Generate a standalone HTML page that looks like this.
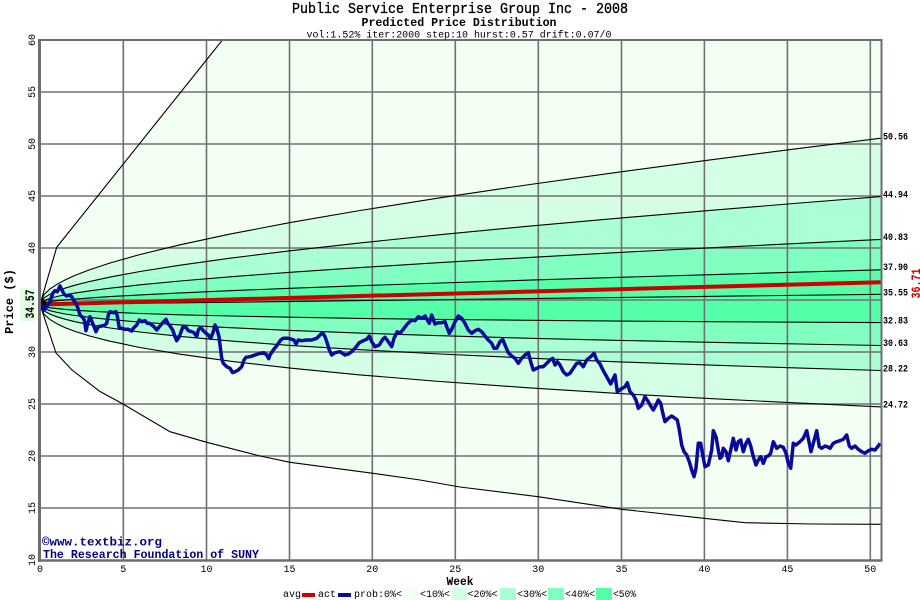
<!DOCTYPE html>
<html><head><meta charset="utf-8"><style>
html,body{margin:0;padding:0;background:#fff;}
svg{display:block;}
text{font-family:"Liberation Mono","DejaVu Sans Mono",monospace;}
</style></head><body>
<svg width="920" height="600" viewBox="0 0 920 600" xmlns="http://www.w3.org/2000/svg">
<defs><clipPath id="pc"><rect x="40" y="40" width="841" height="520"/></clipPath></defs>
<rect width="920" height="600" fill="#fff"/>
<g clip-path="url(#pc)">
<polygon fill="#f2fff2" points="40,304.5 56.7,247.3 222,40 881,40 881,524.3 813,524 745,522.7 704,518.3 621.7,509.3 538,496.7 460,487 420,480 373,473.3 290,462.3 260,456 206.7,442.3 170,431.7 123,404 100,391.5 72,370 56,353"/>
<polygon fill="#d4ffe4" points="40,304.5 44,294.6 50,288.9 57,284.3 65,280 75,275.4 90,269.6 110,263 140,254.5 180,244.8 230,234.1 290,222.6 360,210.5 440,197.8 530,184.5 620,171.9 710,159.9 800,148.3 881,138.2 881,406.9 800,403.1 710,398.6 620,393.6 530,387.9 440,381.5 360,374.9 290,368.1 230,361.2 180,354.2 140,347.5 110,341.2 90,336.1 75,331.4 65,327.6 57,323.8 50,319.6 44,314.3"/>
<polygon fill="#aaffd4" points="40,304.5 44,297.9 50,294.2 57,291.1 65,288.2 75,285.2 90,281.4 110,277.1 140,271.5 180,265.2 230,258.2 290,250.8 360,242.9 440,234.7 530,226.1 620,218.1 710,210.4 800,203 881,196.6 881,370.5 800,368.1 710,365.1 620,361.9 530,358.2 440,354 360,349.7 290,345.4 230,340.9 180,336.4 140,332 110,328 90,324.7 75,321.7 65,319.2 57,316.8 50,314.1 44,310.8"/>
<polygon fill="#80ffc0" points="40,304.5 44,300.6 50,298.4 57,296.5 65,294.8 75,293.1 90,290.8 110,288.2 140,284.8 180,281 230,276.8 290,272.3 360,267.6 440,262.6 530,257.4 620,252.4 710,247.8 800,243.3 881,239.4 881,345.5 800,344 710,342.3 620,340.4 530,338.3 440,335.7 360,333.1 290,330.4 230,327.7 180,324.9 140,322.1 110,319.6 90,317.4 75,315.5 65,314 57,312.4 50,310.7 44,308.5"/>
<polygon fill="#55ffaa" points="40,304.5 44,302.7 50,301.6 57,300.7 65,299.9 75,299 90,297.9 110,296.6 140,294.9 180,292.9 230,290.7 290,288.3 360,285.7 440,283 530,280.1 620,277.3 710,274.7 800,272.1 881,269.8 881,322.6 800,322.2 710,321.7 620,321.1 530,320.3 440,319.4 360,318.4 290,317.2 230,316 180,314.8 140,313.5 110,312.2 90,311.2 75,310.2 65,309.4 57,308.6 50,307.8 44,306.6"/>
<g stroke="#707070" stroke-width="1.6" fill="none">
<line x1="123.3" y1="40" x2="123.3" y2="560"/><line x1="206.5" y1="40" x2="206.5" y2="560"/><line x1="289.5" y1="40" x2="289.5" y2="560"/><line x1="372.3" y1="40" x2="372.3" y2="560"/><line x1="455.3" y1="40" x2="455.3" y2="560"/><line x1="538.3" y1="40" x2="538.3" y2="560"/><line x1="621.5" y1="40" x2="621.5" y2="560"/><line x1="704.4" y1="40" x2="704.4" y2="560"/><line x1="787.4" y1="40" x2="787.4" y2="560"/><line x1="870.3" y1="40" x2="870.3" y2="560"/>
<line x1="40" y1="92" x2="881" y2="92"/><line x1="40" y1="144" x2="881" y2="144"/><line x1="40" y1="196" x2="881" y2="196"/><line x1="40" y1="248" x2="881" y2="248"/><line x1="40" y1="300" x2="881" y2="300"/><line x1="40" y1="352" x2="881" y2="352"/><line x1="40" y1="404" x2="881" y2="404"/><line x1="40" y1="456" x2="881" y2="456"/><line x1="40" y1="508" x2="881" y2="508"/>
</g>
<g stroke="#000" stroke-width="1.1" fill="none">
<polyline points="40,304.5 56.7,247.3 222,40.5 231,40.5"/>
<polyline points="40,304.5 56,353 72,370 100,391.5 123,404 170,431.7 206.7,442.3 260,456 290,462.3 373,473.3 420,480 460,487 538,496.7 621.7,509.3 704,518.3 745,522.7 813,524 881,524.3"/>
<polyline points="40,304.5 44,294.6 50,288.9 57,284.3 65,280 75,275.4 90,269.6 110,263 140,254.5 180,244.8 230,234.1 290,222.6 360,210.5 440,197.8 530,184.5 620,171.9 710,159.9 800,148.3 881,138.2"/>
<polyline points="40,304.5 44,297.9 50,294.2 57,291.1 65,288.2 75,285.2 90,281.4 110,277.1 140,271.5 180,265.2 230,258.2 290,250.8 360,242.9 440,234.7 530,226.1 620,218.1 710,210.4 800,203 881,196.6"/>
<polyline points="40,304.5 44,300.6 50,298.4 57,296.5 65,294.8 75,293.1 90,290.8 110,288.2 140,284.8 180,281 230,276.8 290,272.3 360,267.6 440,262.6 530,257.4 620,252.4 710,247.8 800,243.3 881,239.4"/>
<polyline points="40,304.5 44,302.7 50,301.6 57,300.7 65,299.9 75,299 90,297.9 110,296.6 140,294.9 180,292.9 230,290.7 290,288.3 360,285.7 440,283 530,280.1 620,277.3 710,274.7 800,272.1 881,269.8"/>
<line x1="40" y1="304.5" x2="881" y2="294.3"/>
<polyline points="40,304.5 44,306.6 50,307.8 57,308.6 65,309.4 75,310.2 90,311.2 110,312.2 140,313.5 180,314.8 230,316 290,317.2 360,318.4 440,319.4 530,320.3 620,321.1 710,321.7 800,322.2 881,322.6"/>
<polyline points="40,304.5 44,308.5 50,310.7 57,312.4 65,314 75,315.5 90,317.4 110,319.6 140,322.1 180,324.9 230,327.7 290,330.4 360,333.1 440,335.7 530,338.3 620,340.4 710,342.3 800,344 881,345.5"/>
<polyline points="40,304.5 44,310.8 50,314.1 57,316.8 65,319.2 75,321.7 90,324.7 110,328 140,332 180,336.4 230,340.9 290,345.4 360,349.7 440,354 530,358.2 620,361.9 710,365.1 800,368.1 881,370.5"/>
<polyline points="40,304.5 44,314.3 50,319.6 57,323.8 65,327.6 75,331.4 90,336.1 110,341.2 140,347.5 180,354.2 230,361.2 290,368.1 360,374.9 440,381.5 530,387.9 620,393.6 710,398.6 800,403.1 881,406.9"/>
</g>
<line x1="40" y1="304.5" x2="881" y2="282.2" stroke="#cc0000" stroke-width="4"/>
<rect x="40" y="301" width="6" height="6" fill="#000"/>
<polyline fill="none" stroke="#0a0a9a" stroke-width="3.5" stroke-linejoin="round" points="41.7,303.3 44,310 46.7,306.7 50,301.7 52.7,293.3 55,290.7 57.3,291.7 60,286 62,290 64,294 66.7,296 69.3,295 71.7,296.7 73.3,300 76,303.3 78.3,309.3 80,315 82.7,317.3 84.3,320 86,330.7 87.7,323.3 90,316.7 92.7,323.3 94.3,327.3 96,331.7 98.3,326.7 101.7,326 105,325 106.7,323.3 108.3,315 110,311.7 113.3,312.7 116,311.7 117.3,316 119.3,328.3 121.7,328.3 125,329.3 128.3,329.3 131.7,331 133.3,328.3 136.7,325 139.3,320 141.7,321.7 145,320.7 147.3,323.3 149.3,323.3 151.7,325 154,326.7 156.7,330 159.3,326.7 162.7,322.7 166,319.3 167.7,323.3 170,326 172.7,330 175,336.7 176.7,340.7 179.3,336.7 182.7,327.3 186,327.3 188.3,330.7 191.7,331.7 194,332.7 196.7,336.7 198.3,330 200.7,327.3 203.3,330.7 206,333.3 208.3,335 210.7,338.3 213.3,331.7 215,325 216.7,328.3 219,336.7 221.7,358.3 223.3,363.3 226.7,366.7 230,368.3 232.7,372.7 235,371.7 238.3,370 241.7,366.7 244,360 246,357.3 250,356.7 255,355 260,353.3 264,352.7 266.7,355 268.7,358.7 270,355 273.3,350 277.3,345 280.7,340 283.3,338.3 288.3,338.3 291.7,339.3 294,340 296,344 298.3,340 301.7,340.7 306.7,340 311.7,340 316.7,338.3 320,335 322.7,332.7 325,336.7 327.3,343.3 329.3,350 331.7,355 335,352.7 340,351.7 345,355 348.3,354 351.7,351.7 355,348.3 359.3,342.7 363.3,340.7 366.7,339.3 369.3,336 371.7,341.7 375,346.7 379.3,345 382.7,339.3 385,337.3 388.3,341.7 391.7,346.7 394,338.3 397.3,331.7 400,333.3 403.3,329.3 407.3,324 411.7,320 415,320.7 418.3,316.7 421.7,318.3 425,316 427.3,320 429.3,323.3 431.7,315 435,324 438.3,322.7 441.7,322.7 445,321.7 446.7,326.7 449.3,333.3 451.7,329.3 455,321.7 458.3,316 461.7,318.3 465,323.3 468.3,330 471.7,333.3 475,330.7 478.3,329.3 481.7,331.7 485,336 488.3,340 491.7,343.3 494,348.3 496.7,348.3 500,341.7 502.7,339.3 505,345 508.3,352.7 511.7,356 515,358.3 518.3,363.3 521.7,358.3 525,355 528.3,352.7 530.7,361.7 533.3,370 536.7,368.3 540,366.7 543.3,366.7 546.7,363.3 550,360 552.7,358.3 555,365 557.3,361.7 560,365 563.3,371.7 566.7,375 570,373.3 573.3,368.3 576.7,363.3 580,362.7 583.3,366.7 586.7,360 590.7,356.7 594,353.3 596.7,360 600,364 603.3,370.7 606.7,376.7 610.7,384 613.3,378.3 615,375 617.3,391.7 620.7,389.3 625,386.7 627.3,382.7 630,391.7 633.3,395 636,400 638.3,408.3 641.7,405 645,396.7 648.3,401.7 650.7,406 653.3,410 656,405 658.3,400 660.7,403.3 662.7,412.7 665,421.7 668.3,418.3 671.7,416 675,418.3 677.3,420 679.3,430 681.7,445 684,451.7 686.7,455 689.3,461.7 691.7,470 694,476.7 696,468.3 698.3,443.3 700.7,443.3 702.7,455 705,466.7 708.3,465 711.7,450 713.3,430.7 716,436.7 718.3,450 720,458.3 721.7,456.7 723.3,448.3 726,451.7 728.3,460.7 730.7,450 733.3,438.3 736,450 738.3,441.7 740.7,440 743.3,451.7 746,443.3 748.3,439.3 750.7,446 753.3,456.7 756,465 758.3,460 760.7,456.7 763.3,463.3 766,456.7 768.3,456 770.7,453.3 773.3,441.7 776.7,448.3 780,446 783.3,447.3 786,453.3 788.3,463.3 790.7,468.3 793.3,443.3 796,445 800,441.7 803.3,438.3 806.7,430.7 809.3,443.3 811,451.7 813.3,443.3 816.7,430.7 819.3,446.7 821.7,448.3 825,446 827.3,446.7 830,448.3 833.3,443.3 836.7,441.7 840,440.7 843.3,439.3 846.7,435 849.3,446 851.7,448.3 855,446 858.3,449.3 861.7,451.7 865,453.3 868.3,450.7 871.7,449.3 875,450 878.3,446 880,443.3"/>
</g>
<g stroke="#6e6e6e" fill="none">
<line x1="40" y1="40" x2="882" y2="40" stroke-width="2"/>
<line x1="881.5" y1="39" x2="881.5" y2="561" stroke-width="2"/>
<line x1="39.5" y1="39" x2="39.5" y2="562" stroke-width="3"/>
<line x1="38" y1="560.5" x2="882.5" y2="560.5" stroke-width="2.6"/>
</g>
<text x="292" y="13" font-size="15" textLength="336" lengthAdjust="spacingAndGlyphs" fill="#000" stroke="#000" stroke-width="0.35">Public Service Enterprise Group Inc - 2008</text>
<text x="361.5" y="26" font-size="12" font-weight="bold" textLength="195" lengthAdjust="spacingAndGlyphs" fill="#000">Predicted Price Distribution</text>
<text x="306.5" y="37.5" font-size="10.5" textLength="305" lengthAdjust="spacingAndGlyphs" fill="#000">vol:1.52% iter:2000 step:10 hurst:0.57 drift:0.07/0</text>
<g font-size="10" fill="#000" text-anchor="middle">
<text transform="translate(35,40) rotate(-90)">60</text>
<text transform="translate(35,92) rotate(-90)">55</text>
<text transform="translate(35,144) rotate(-90)">50</text>
<text transform="translate(35,196) rotate(-90)">45</text>
<text transform="translate(35,248) rotate(-90)">40</text>
<text transform="translate(35,352) rotate(-90)">30</text>
<text transform="translate(35,404) rotate(-90)">25</text>
<text transform="translate(35,456) rotate(-90)">20</text>
<text transform="translate(35,508) rotate(-90)">15</text>
<text transform="translate(35,560) rotate(-90)">10</text>
<text x="40" y="572">0</text>
<text x="123.3" y="572">5</text>
<text x="206.5" y="572">10</text>
<text x="289.5" y="572">15</text>
<text x="372.3" y="572">20</text>
<text x="455.3" y="572">25</text>
<text x="538.3" y="572">30</text>
<text x="621.5" y="572">35</text>
<text x="704.4" y="572">40</text>
<text x="787.4" y="572">45</text>
<text x="870.3" y="572">50</text>
</g>
<text transform="translate(13,301.5) rotate(-90)" text-anchor="middle" font-size="12" font-weight="bold" fill="#000">Price ($)</text>
<rect x="20" y="288" width="15" height="33" fill="#e2ffe2"/>
<text transform="translate(34,318.5) rotate(-90)" font-size="13" font-weight="bold" textLength="29" lengthAdjust="spacingAndGlyphs" fill="#000">34.57</text>
<text transform="translate(920,298.5) rotate(-90)" font-size="13" font-weight="bold" textLength="30" lengthAdjust="spacingAndGlyphs" fill="#cc0000">36.71</text>
<g font-size="10" font-weight="bold" fill="#000">
<text x="883" y="139.3" textLength="25" lengthAdjust="spacingAndGlyphs">50.56</text>
<text x="883" y="197.3" textLength="25" lengthAdjust="spacingAndGlyphs">44.94</text>
<text x="883" y="240" textLength="25" lengthAdjust="spacingAndGlyphs">40.83</text>
<text x="883" y="270" textLength="25" lengthAdjust="spacingAndGlyphs">37.90</text>
<text x="883" y="295.7" textLength="25" lengthAdjust="spacingAndGlyphs">35.55</text>
<text x="883" y="323.3" textLength="25" lengthAdjust="spacingAndGlyphs">32.83</text>
<text x="883" y="346" textLength="25" lengthAdjust="spacingAndGlyphs">30.63</text>
<text x="883" y="371.3" textLength="25" lengthAdjust="spacingAndGlyphs">28.22</text>
<text x="883" y="407.3" textLength="25" lengthAdjust="spacingAndGlyphs">24.72</text>
</g>
<text x="42" y="545.5" font-size="12" font-weight="bold" textLength="120" lengthAdjust="spacingAndGlyphs" fill="#000080">©www.textbiz.org</text>
<text x="43" y="558" font-size="12" font-weight="bold" textLength="216" lengthAdjust="spacingAndGlyphs" fill="#000080">The Research Foundation of SUNY</text>
<text x="446.5" y="585" font-size="11.5" font-weight="bold" textLength="27" lengthAdjust="spacingAndGlyphs" fill="#000">Week</text>
<g font-size="10" fill="#000">
<text x="283" y="597" textLength="18" lengthAdjust="spacingAndGlyphs">avg</text>
<rect x="302" y="593" width="13" height="4" fill="#cc0000"/>
<text x="318" y="597" textLength="18" lengthAdjust="spacingAndGlyphs">act</text>
<rect x="338" y="593" width="13" height="4" fill="#0a0a9a"/>
<text x="354" y="597" textLength="48" lengthAdjust="spacingAndGlyphs">prob:0%&lt;</text>
<rect x="403" y="588" width="15" height="12" fill="#f2fff2"/>
<text x="420" y="597" textLength="30" lengthAdjust="spacingAndGlyphs">&lt;10%&lt;</text>
<rect x="452" y="588" width="15" height="12" fill="#d4ffe4"/>
<text x="467.5" y="597" textLength="30" lengthAdjust="spacingAndGlyphs">&lt;20%&lt;</text>
<rect x="500" y="588" width="16" height="12" fill="#aaffd4"/>
<text x="517" y="597" textLength="30" lengthAdjust="spacingAndGlyphs">&lt;30%&lt;</text>
<rect x="548" y="588" width="16" height="12" fill="#80ffc0"/>
<text x="565" y="597" textLength="30" lengthAdjust="spacingAndGlyphs">&lt;40%&lt;</text>
<rect x="596" y="588" width="16" height="12" fill="#55ffaa"/>
<text x="613" y="597" textLength="23" lengthAdjust="spacingAndGlyphs">&lt;50%</text>
</g>
</svg>
</body></html>
